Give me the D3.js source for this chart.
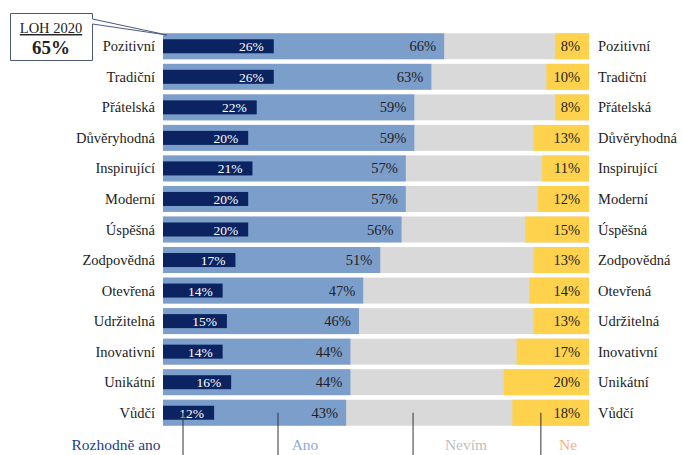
<!DOCTYPE html>
<html>
<head>
<meta charset="utf-8">
<script src="https://cdn.jsdelivr.net/npm/d3@7"></script>
<style>
  body { margin: 0; background: #fff; }
  svg text { font-family: "Liberation Serif", "DejaVu Serif", serif; }
</style>
</head>
<body>
<svg id="chart" width="682" height="455"></svg>
<script>
// data
const categories = ['Pozitivní', 'Tradiční', 'Přátelská', 'Důvěryhodná', 'Inspirující', 'Moderní',
  'Úspěšná', 'Zodpovědná', 'Otevřená', 'Udržitelná', 'Inovativní', 'Unikátní', 'Vůdčí'];
const rozhodneAno = [26, 26, 22, 20, 21, 20, 20, 17, 14, 15, 14, 16, 12];
const ano = [66, 63, 59, 59, 57, 57, 56, 51, 47, 46, 44, 44, 43]; // incl. rozhodně ano
const ne = [8, 10, 8, 13, 11, 12, 15, 13, 14, 13, 17, 20, 18];
const legendLabels = ['Rozhodně ano', 'Ano', 'Nevím', 'Ne'];
const leaderAt = [4.7, 27, 58.7, 88.7]; // where the legend pointers touch the last bar (%)
const calloutLabel = 'LOH 2020';
const calloutValue = '65%';

const rows = categories.map((c, i) => ({ cat: c, r: rozhodneAno[i], a: ano[i], n: ne[i] }));

const svg = d3.select('#chart');

const x = d3.scaleLinear()
  .domain([0, 100])
  .range([163, 589]);

const y = d3.scaleBand()
  .domain(categories)
  .range([31, 428])
  .paddingInner(0.15)
  .paddingOuter(0.075);

const bw = y.bandwidth();
const g = svg.append('g');

// gray background (Nevím)
g.selectAll('rect.nevim')
  .data(rows)
  .enter().append('rect')
  .attr('class', 'nevim')
  .attr('x', x(0))
  .attr('y', d => y(d.cat))
  .attr('width', x(100) - x(0))
  .attr('height', bw)
  .attr('fill', '#d9d9d9');

// Ano
g.selectAll('rect.ano')
  .data(rows)
  .enter().append('rect')
  .attr('x', x(0))
  .attr('y', d => y(d.cat))
  .attr('width', d => x(d.a) - x(0))
  .attr('height', bw)
  .attr('fill', '#7c9ecb');

// Ne, from the right end
g.selectAll('rect.ne')
  .data(rows)
  .enter().append('rect')
  .attr('x', d => x(100 - d.n))
  .attr('y', d => y(d.cat))
  .attr('width', d => x(100) - x(100 - d.n))
  .attr('height', bw)
  .attr('fill', '#ffd24d');

// Rozhodně ano (thinner, inside Ano)
const inset = bw * 0.23;
g.selectAll('rect.rozh')
  .data(rows)
  .enter().append('rect')
  .attr('x', x(0))
  .attr('y', d => y(d.cat) + inset)
  .attr('width', d => x(d.r) - x(0))
  .attr('height', bw - 2 * inset)
  .attr('fill', '#0b2461');

// value labels
const mid = d => y(d.cat) + bw / 2 + 5;
g.selectAll('text.rv')
  .data(rows)
  .enter().append('text')
  .attr('x', d => x(d.r) - 10)
  .attr('y', mid)
  .attr('text-anchor', 'end')
  .attr('font-size', 13.5)
  .attr('fill', '#fff')
  .text(d => d.r + '%');

g.selectAll('text.av')
  .data(rows)
  .enter().append('text')
  .attr('x', d => x(d.a) - 8)
  .attr('y', mid)
  .attr('text-anchor', 'end')
  .attr('font-size', 14.5)
  .attr('fill', '#222')
  .text(d => d.a + '%');

g.selectAll('text.nv')
  .data(rows)
  .enter().append('text')
  .attr('x', x(100) - 9)
  .attr('y', mid)
  .attr('text-anchor', 'end')
  .attr('font-size', 14.5)
  .attr('fill', '#222')
  .text(d => d.n + '%');

// category labels, both sides
g.selectAll('text.catl')
  .data(rows)
  .enter().append('text')
  .attr('x', x(0) - 8)
  .attr('y', mid)
  .attr('text-anchor', 'end')
  .attr('font-size', 14.5)
  .attr('fill', '#222')
  .text(d => d.cat);

g.selectAll('text.catr')
  .data(rows)
  .enter().append('text')
  .attr('x', x(100) + 9)
  .attr('y', mid)
  .attr('text-anchor', 'start')
  .attr('font-size', 14.5)
  .attr('fill', '#222')
  .text(d => d.cat);

// legend with leader lines from the last row
const last = rows[rows.length - 1];
const lineY = y(last.cat) + bw / 2;
const legendX = [116, 305, 466, 568];
const legendColors = ['#1f3c88', '#8faadc', '#bfbfbf', '#f4b183'];

svg.selectAll('line.lead')
  .data(leaderAt)
  .enter().append('line')
  .attr('x1', d => x(d)).attr('x2', d => x(d))
  .attr('y1', lineY).attr('y2', 455)
  .attr('stroke', '#333')
  .attr('stroke-width', 1);

svg.selectAll('text.leg')
  .data(legendLabels)
  .enter().append('text')
  .attr('x', (d, i) => legendX[i])
  .attr('y', 450)
  .attr('text-anchor', 'middle')
  .attr('font-size', 15.5)
  .attr('fill', (d, i) => legendColors[i])
  .text(d => d);

// callout box
const callout = svg.append('g');
callout.append('path')
  .attr('d', 'M10.5,13.5 H92.5 V19 L167,35 L92.5,24 V60.5 H10.5 Z')
  .attr('fill', '#fff')
  .attr('stroke', '#4a5a78')
  .attr('stroke-width', 1);

callout.append('text')
  .attr('x', 51)
  .attr('y', 33)
  .attr('text-anchor', 'middle')
  .attr('font-size', 14.5)
  .attr('fill', '#222')
  .attr('text-decoration', 'underline')
  .text(calloutLabel);

callout.append('text')
  .attr('x', 51)
  .attr('y', 54)
  .attr('text-anchor', 'middle')
  .attr('font-size', 19)
  .attr('font-weight', 'bold')
  .attr('fill', '#222')
  .text(calloutValue);
</script>
</body>
</html>
